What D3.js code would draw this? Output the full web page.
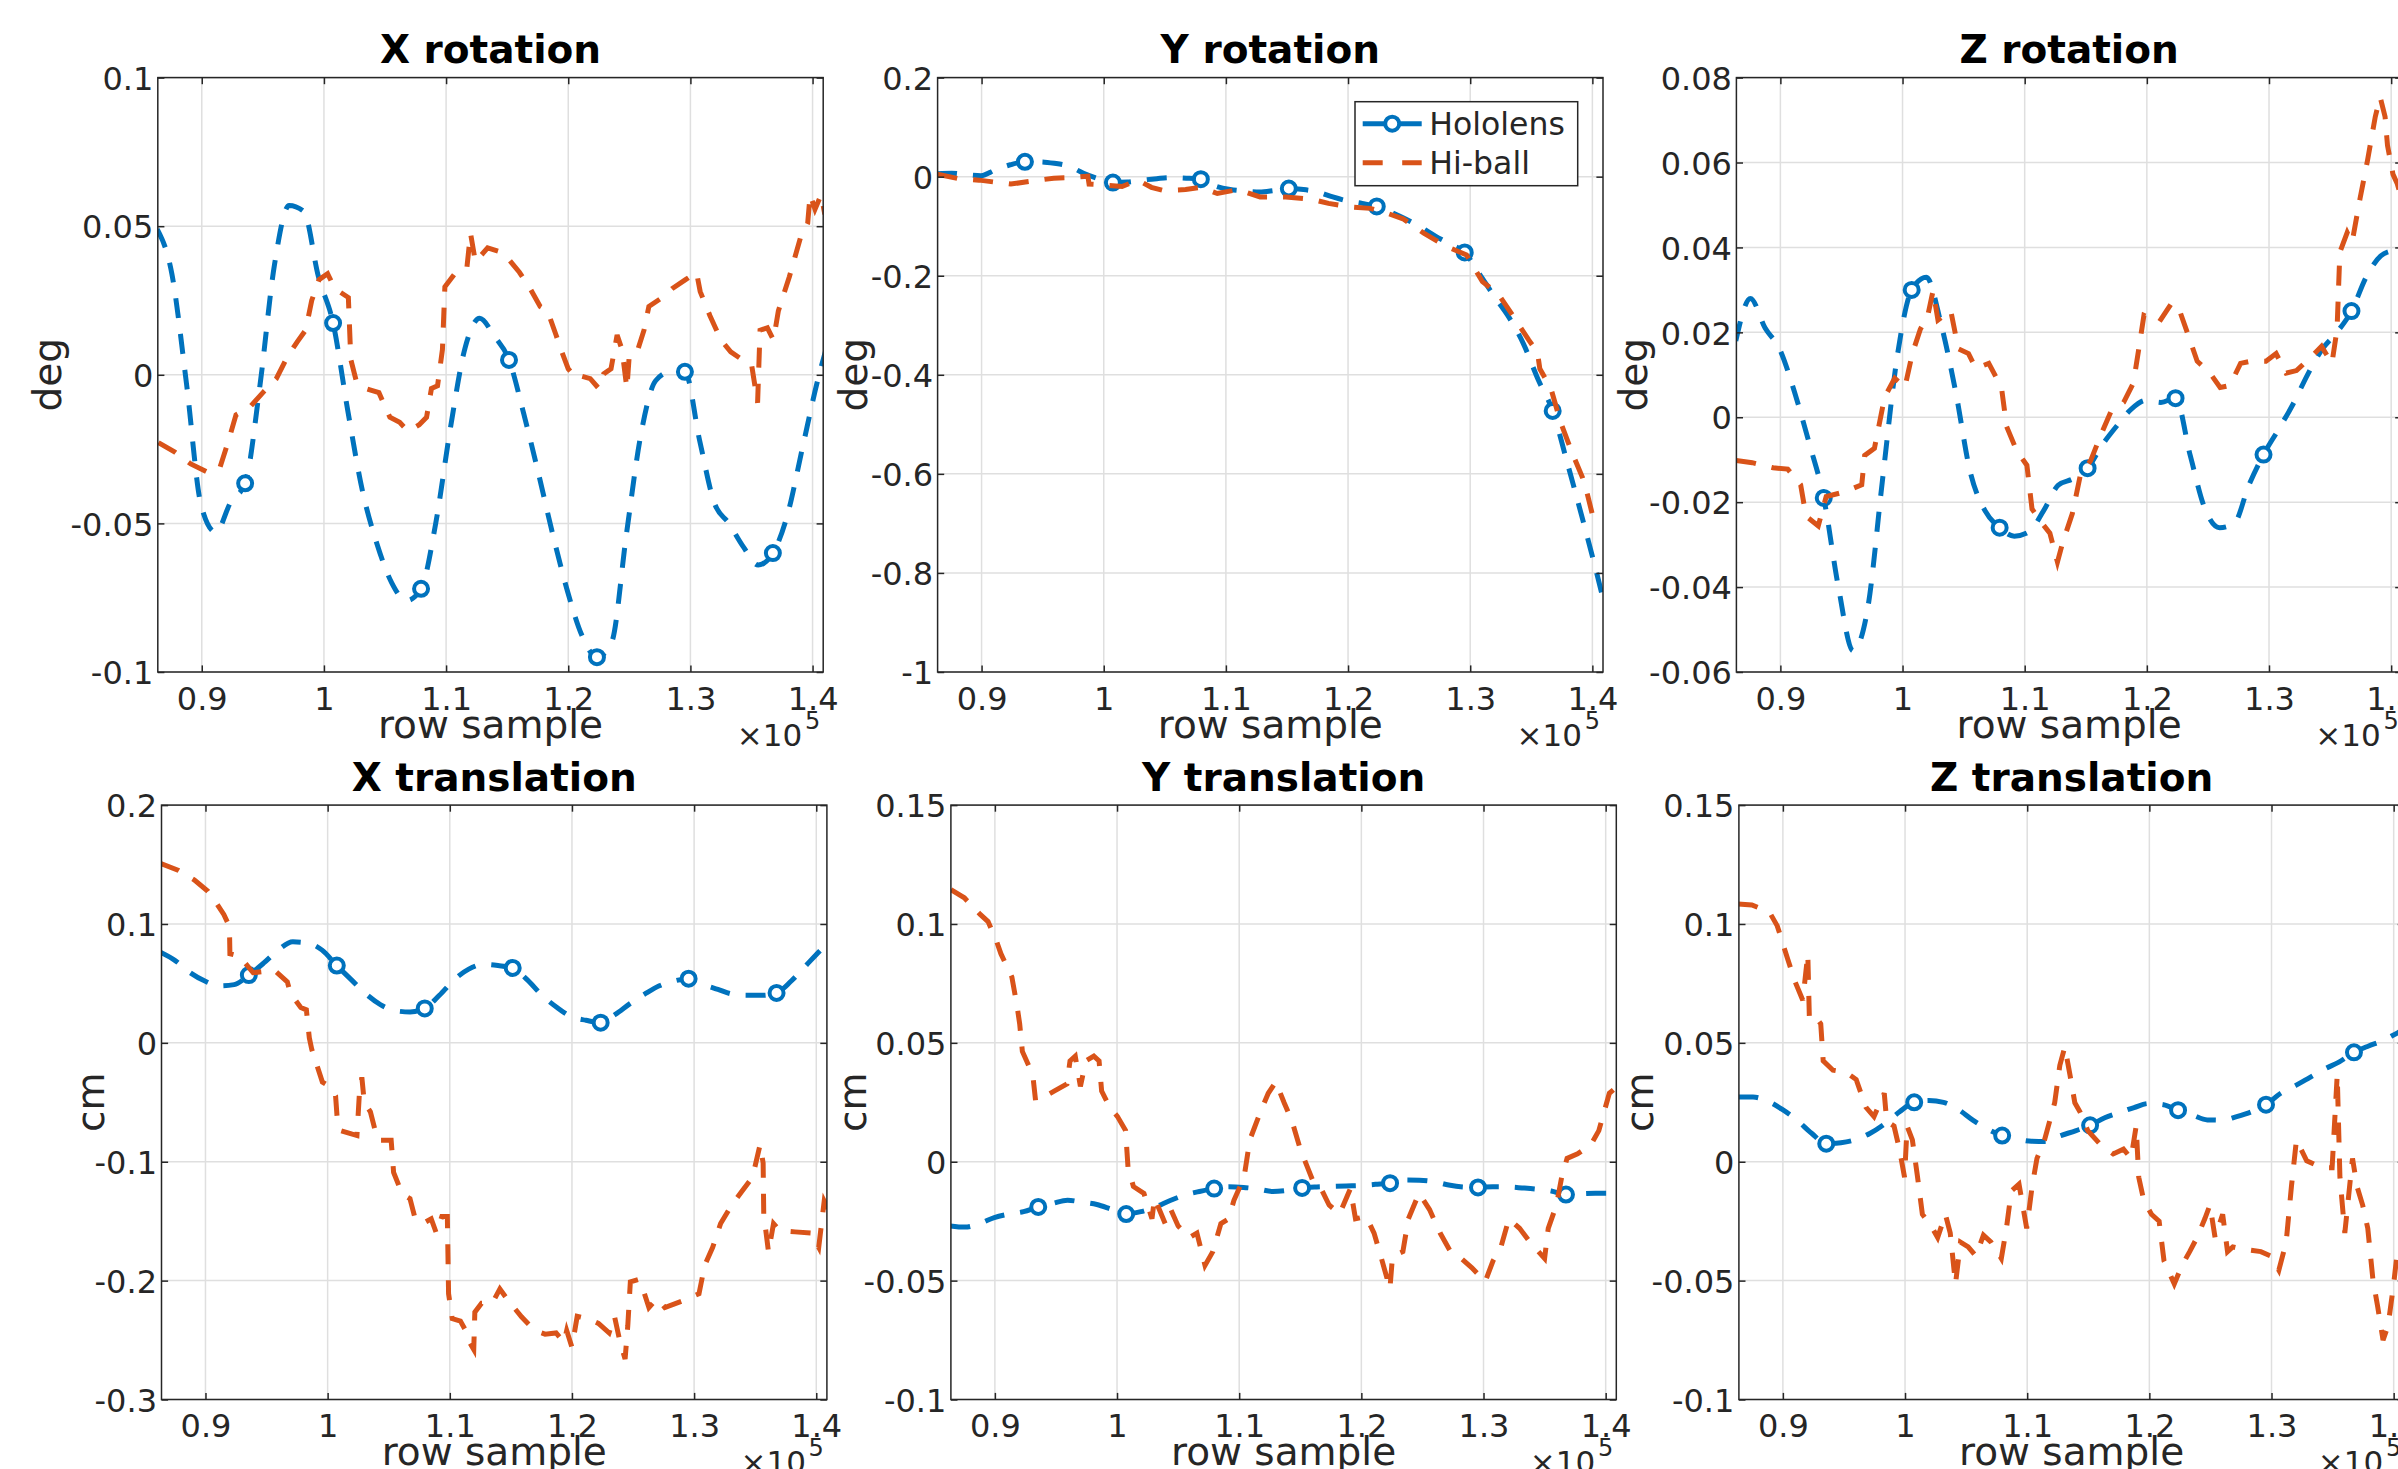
<!DOCTYPE html>
<html>
<head>
<meta charset="utf-8">
<script src="https://cdn.jsdelivr.net/npm/d3@7/dist/d3.min.js"></script>
<style>
  body { margin: 0; background: #fff; }
  svg text { font-family: "DejaVu Sans", sans-serif; }
</style>
</head>
<body>
<svg id="chart" width="2398" height="1469"></svg>
<script>
// -------------------------------------------------------------------------
// Data (row sample is in units of 10^5, as on the axis)

const rowDomain = [0.864, 1.4087];
const rowTicks = [0.9, 1.0, 1.1, 1.2, 1.3, 1.4];
const rowTickLabels = ['0.9', '1', '1.1', '1.2', '1.3', '1.4'];

const panelTitles = ['X rotation', 'Y rotation', 'Z rotation', 'X translation', 'Y translation', 'Z translation'];
const panelUnits = ['deg', 'deg', 'deg', 'cm', 'cm', 'cm'];
const panelYDomains = [[-0.1, 0.1], [-1, 0.2], [-0.06, 0.08], [-0.3, 0.2], [-0.1, 0.15], [-0.1, 0.15]];
const panelYTicks = [
  [-0.1, -0.05, 0, 0.05, 0.1],
  [-1, -0.8, -0.6, -0.4, -0.2, 0, 0.2],
  [-0.06, -0.04, -0.02, 0, 0.02, 0.04, 0.06, 0.08],
  [-0.3, -0.2, -0.1, 0, 0.1, 0.2],
  [-0.1, -0.05, 0, 0.05, 0.1, 0.15],
  [-0.1, -0.05, 0, 0.05, 0.1, 0.15]
];

const seriesNames = ['Hololens', 'Hi-ball'];

// Hololens samples, all on the same rows; markers sit on every 6th one
const hololensRows = [0.8635, 0.8755, 0.8875, 0.8995, 0.9115, 0.9235, 0.9355, 0.9475, 0.9595, 0.9715,
  0.9835, 0.9955, 1.0075, 1.0195, 1.0315, 1.0435, 1.0555, 1.0675, 1.0795, 1.0915,
  1.1035, 1.1155, 1.1275, 1.1395, 1.1515, 1.1635, 1.1755, 1.1875, 1.1995, 1.2115,
  1.2235, 1.2355, 1.2475, 1.2595, 1.2715, 1.2835, 1.2955, 1.3075, 1.3195, 1.3315,
  1.3435, 1.3555, 1.3675, 1.3795, 1.3915, 1.4035, 1.4155];
const hololensMarkerIndex = [6, 12, 18, 24, 30, 36, 42];

const hololensXRot = [0.049, 0.034, -0.003, -0.044, -0.053, -0.043, -0.0365, -0.004, 0.037, 0.057,
  0.055, 0.033, 0.0174, -0.012, -0.039, -0.057, -0.070, -0.076, -0.072, -0.050,
  -0.018, 0.009, 0.019, 0.013, 0.005, -0.013, -0.033, -0.054, -0.073, -0.088,
  -0.095, -0.090, -0.054, -0.020, -0.002, 0.001, 0.001, -0.022, -0.043, -0.050,
  -0.058, -0.064, -0.060, -0.047, -0.025, -0.003, 0.015];
const hololensYRot = [0.006, 0.007, 0.004, 0.002, 0.014, 0.024, 0.030, 0.030, 0.027, 0.021,
  0.007, -0.004, -0.012, -0.011, -0.007, -0.004, -0.002, -0.003, -0.005, -0.019,
  -0.026, -0.029, -0.031, -0.028, -0.024, -0.026, -0.031, -0.041, -0.049, -0.054,
  -0.060, -0.072, -0.086, -0.102, -0.120, -0.136, -0.153, -0.196, -0.241, -0.283,
  -0.337, -0.409, -0.473, -0.578, -0.687, -0.800, -0.920];
const hololensZRot = [0.018, 0.028, 0.021, 0.016, 0.006, -0.006, -0.019, -0.040, -0.055, -0.045,
  -0.015, 0.014, 0.030, 0.033, 0.022, 0.006, -0.013, -0.022, -0.026, -0.028,
  -0.027, -0.022, -0.016, -0.0145, -0.012, -0.0065, -0.002, 0.002, 0.004, 0.0035,
  0.0045, -0.009, -0.0215, -0.026, -0.025, -0.016, -0.0088, -0.003, 0.003, 0.010,
  0.016, 0.020, 0.025, 0.033, 0.038, 0.0395, 0.041];
const hololensXTrans = [0.076, 0.069, 0.059, 0.052, 0.048, 0.049, 0.057, 0.067, 0.078, 0.085,
  0.084, 0.078, 0.065, 0.053, 0.041, 0.032, 0.027, 0.026, 0.029, 0.040,
  0.053, 0.062, 0.066, 0.065, 0.063, 0.053, 0.040, 0.030, 0.022, 0.019,
  0.017, 0.024, 0.033, 0.041, 0.048, 0.052, 0.054, 0.049, 0.045, 0.041,
  0.040, 0.040, 0.042, 0.052, 0.065, 0.078, 0.090];
const hololensYTrans = [-0.027, -0.0275, -0.026, -0.0235, -0.022, -0.021, -0.019, -0.0175, -0.0162, -0.017,
  -0.018, -0.020, -0.022, -0.021, -0.019, -0.0163, -0.014, -0.0125, -0.0113, -0.0105,
  -0.0108, -0.0115, -0.0125, -0.012, -0.011, -0.0106, -0.0104, -0.0102, -0.010, -0.0095,
  -0.009, -0.0077, -0.0078, -0.0084, -0.0098, -0.0106, -0.0108, -0.0105, -0.0106, -0.011,
  -0.0115, -0.0123, -0.0138, -0.0135, -0.0133, -0.0133, -0.0135];
const hololensZTrans = [0.0272, 0.0272, 0.0255, 0.022, 0.0175, 0.012, 0.0076, 0.008, 0.0093, 0.012,
  0.016, 0.021, 0.025, 0.0258, 0.025, 0.022, 0.0175, 0.0138, 0.011, 0.0095,
  0.0086, 0.0085, 0.011, 0.013, 0.0153, 0.0185, 0.0207, 0.0228, 0.0245, 0.024,
  0.0217, 0.0196, 0.0176, 0.0175, 0.019, 0.021, 0.024, 0.0288, 0.032, 0.0355,
  0.039, 0.042, 0.046, 0.0487, 0.051, 0.0543, 0.057];

const hiballXRot = [[0.8645, -0.0228], [0.878, -0.026], [0.891, -0.030], [0.906, -0.033], [0.915, -0.031],
  [0.922, -0.022], [0.928, -0.0135], [0.939, -0.011], [0.950, -0.006], [0.961, -0.0013], [0.970, 0.006],
  [0.978, 0.011], [0.985, 0.015], [0.990, 0.025], [0.996, 0.032], [1.003, 0.034], [1.009, 0.029],
  [1.020, 0.026], [1.022, 0.0052], [1.027, -0.003], [1.034, -0.0046], [1.045, -0.006], [1.054, -0.0143],
  [1.062, -0.016], [1.069, -0.019], [1.078, -0.0168], [1.084, -0.0143], [1.088, -0.0046], [1.093, -0.0037],
  [1.097, 0.0085], [1.099, 0.0296], [1.108, 0.0345], [1.117, 0.036], [1.120, 0.0476], [1.124, 0.038],
  [1.134, 0.0427], [1.147, 0.041], [1.160, 0.0345], [1.168, 0.0296], [1.177, 0.023], [1.183, 0.0215],
  [1.190, 0.0134], [1.194, 0.0085], [1.200, 0.002], [1.207, -0.0013], [1.211, -0.0005], [1.218, -0.0013],
  [1.225, -0.0046], [1.229, 0.0003], [1.235, 0.002], [1.240, 0.0134], [1.244, 0.0085], [1.248, -0.0046],
  [1.250, 0.0068], [1.257, 0.0085], [1.262, 0.015], [1.266, 0.023], [1.277, 0.026], [1.285, 0.029],
  [1.296, 0.032], [1.305, 0.0345], [1.308, 0.028], [1.316, 0.0199], [1.325, 0.0117], [1.333, 0.0077],
  [1.342, 0.0052], [1.350, 0.0036], [1.355, -0.0094], [1.357, 0.015], [1.363, 0.0158], [1.368, 0.0117],
  [1.372, 0.0215], [1.381, 0.033], [1.390, 0.046], [1.396, 0.051], [1.398, 0.0606], [1.402, 0.0557],
  [1.407, 0.0606], [1.410, 0.054]];
const hiballYRot = [[0.864, 0.005], [0.881, -0.004], [0.898, -0.007], [0.924, -0.015], [0.941, -0.009],
  [0.959, -0.003], [0.972, -0.002], [0.987, 0.001], [0.988, -0.015], [1.002, -0.017], [1.015, -0.020],
  [1.028, -0.007], [1.039, -0.0215], [1.049, -0.028], [1.067, -0.026], [1.080, -0.0215], [1.093, -0.034],
  [1.110, -0.026], [1.128, -0.041], [1.149, -0.041], [1.171, -0.046], [1.184, -0.054], [1.201, -0.061],
  [1.218, -0.064], [1.231, -0.073], [1.245, -0.085], [1.262, -0.114], [1.279, -0.139], [1.297, -0.158],
  [1.310, -0.212], [1.323, -0.237], [1.335, -0.281], [1.348, -0.330], [1.355, -0.354], [1.357, -0.388],
  [1.366, -0.427], [1.374, -0.496], [1.383, -0.555], [1.392, -0.608], [1.396, -0.642], [1.400, -0.682],
  [1.410, -0.696]];
const hiballZRot = [[0.8638, -0.0102], [0.877, -0.0107], [0.894, -0.0119], [0.906, -0.0122], [0.9166, -0.0159],
  [0.921, -0.0233], [0.931, -0.0256], [0.9375, -0.0187], [0.952, -0.0176], [0.9666, -0.0159], [0.969, -0.009],
  [0.977, -0.0073], [0.9853, 0.0047], [0.9936, 0.0092], [1.0019, 0.007], [1.008, 0.015], [1.0145, 0.0207],
  [1.0207, 0.024], [1.025, 0.0298], [1.029, 0.0229], [1.0394, 0.0252], [1.0457, 0.0161], [1.054, 0.015],
  [1.060, 0.0115], [1.0706, 0.0127], [1.081, 0.007], [1.0852, -0.0022], [1.0935, -0.0079], [1.1018, -0.0113],
  [1.106, -0.0216], [1.1143, -0.025], [1.1206, -0.0273], [1.1268, -0.0341], [1.131, -0.0296], [1.139, -0.0227],
  [1.1456, -0.0136], [1.154, -0.0102], [1.162, -0.0044], [1.1705, 0.0013], [1.181, 0.0035], [1.189, 0.0081],
  [1.1934, 0.0161], [1.1976, 0.024], [1.210, 0.0224], [1.2204, 0.0269], [1.2267, 0.0252], [1.235, 0.0184],
  [1.2412, 0.0132], [1.2517, 0.0104], [1.260, 0.007], [1.268, 0.0075], [1.2767, 0.0127], [1.285, 0.0132],
  [1.2975, 0.0132], [1.3058, 0.015], [1.314, 0.0104], [1.3225, 0.011], [1.333, 0.0138], [1.343, 0.0167],
  [1.3515, 0.0127], [1.3557, 0.0207], [1.358, 0.0389], [1.364, 0.0435], [1.368, 0.0412], [1.3745, 0.0515],
  [1.3807, 0.0606], [1.387, 0.0708], [1.391, 0.0754], [1.395, 0.0708], [1.397, 0.064], [1.4015, 0.0572],
  [1.405, 0.055], [1.410, 0.050]];
const hiballXTrans = [[0.863, 0.151], [0.878, 0.145], [0.891, 0.137], [0.902, 0.1275], [0.9087, 0.118],
  [0.915, 0.108], [0.9196, 0.098], [0.920, 0.075], [0.928, 0.073], [0.9326, 0.067], [0.939, 0.059],
  [0.9565, 0.061], [0.967, 0.0513], [0.9696, 0.0415], [0.978, 0.0297], [0.9826, 0.0278], [0.985, 0.0043],
  [0.987, -0.0055], [0.9913, -0.019], [0.9957, -0.033], [1.002, -0.037], [1.0065, -0.0446], [1.008, -0.066],
  [1.011, -0.074], [1.0174, -0.076], [1.024, -0.078], [1.026, -0.0426], [1.028, -0.029], [1.030, -0.050],
  [1.035, -0.058], [1.041, -0.082], [1.052, -0.082], [1.054, -0.109], [1.061, -0.127], [1.0674, -0.131],
  [1.0717, -0.148], [1.078, -0.152], [1.0848, -0.148], [1.089, -0.160], [1.0935, -0.146], [1.098, -0.146],
  [1.099, -0.211], [1.102, -0.232], [1.1087, -0.234], [1.113, -0.242], [1.115, -0.250], [1.1196, -0.258],
  [1.1205, -0.2265], [1.126, -0.219], [1.1348, -0.219], [1.141, -0.207], [1.1478, -0.2167], [1.1587, -0.2304],
  [1.1696, -0.242], [1.178, -0.245], [1.187, -0.244], [1.1935, -0.252], [1.1957, -0.242], [1.200, -0.256],
  [1.2043, -0.230], [1.213, -0.232], [1.2217, -0.236], [1.2304, -0.244], [1.2348, -0.230], [1.239, -0.250],
  [1.2435, -0.266], [1.2457, -0.238], [1.2478, -0.201], [1.2543, -0.199], [1.2587, -0.209], [1.263, -0.2226],
  [1.2696, -0.215], [1.276, -0.2226], [1.2913, -0.2167], [1.304, -0.211], [1.3087, -0.187], [1.3152, -0.172],
  [1.3217, -0.152], [1.3304, -0.137], [1.339, -0.125], [1.3478, -0.113], [1.354, -0.0857], [1.3565, -0.101],
  [1.357, -0.144], [1.3609, -0.176], [1.365, -0.152], [1.370, -0.158], [1.3826, -0.159], [1.3957, -0.160],
  [1.402, -0.172], [1.4065, -0.133], [1.410, -0.140]];
const hiballYTrans = [[0.864, 0.1144], [0.875, 0.111], [0.888, 0.104], [0.8944, 0.101], [0.901, 0.0933],
  [0.905, 0.0874], [0.9139, 0.0777], [0.918, 0.066], [0.9203, 0.058], [0.9225, 0.0464], [0.931, 0.0366],
  [0.9333, 0.0258], [0.942, 0.0278], [0.9485, 0.0297], [0.959, 0.0327], [0.9615, 0.0424], [0.9658, 0.0444],
  [0.970, 0.0317], [0.9745, 0.0424], [0.981, 0.0444], [0.9853, 0.0424], [0.9874, 0.0297], [0.994, 0.0229],
  [1.0004, 0.019], [1.007, 0.0131], [1.009, -0.0025], [1.0134, -0.0104], [1.022, -0.0133], [1.0286, -0.024],
  [1.0307, -0.0153], [1.0394, -0.026], [1.044, -0.0201], [1.050, -0.027], [1.059, -0.032], [1.0654, -0.030],
  [1.072, -0.0436], [1.0784, -0.0378], [1.085, -0.026], [1.0913, -0.024], [1.0957, -0.0162], [1.104, -0.0065],
  [1.1087, 0.0092], [1.1173, 0.0209], [1.1238, 0.0288], [1.130, 0.0336], [1.1368, 0.0248], [1.1433, 0.017],
  [1.150, 0.0053], [1.156, -0.0025], [1.1606, -0.0084], [1.167, -0.0113], [1.1736, -0.0182], [1.1822, -0.022],
  [1.191, -0.0113], [1.1952, -0.024], [1.2039, -0.023], [1.2104, -0.030], [1.217, -0.0417], [1.2234, -0.0534],
  [1.2255, -0.0397], [1.234, -0.0378], [1.2385, -0.024], [1.2472, -0.0133], [1.2558, -0.0201], [1.2645, -0.030],
  [1.273, -0.0378], [1.2818, -0.0407], [1.2905, -0.0446], [1.3013, -0.0505], [1.3078, -0.0417], [1.3143, -0.0358],
  [1.3208, -0.024], [1.3295, -0.028], [1.338, -0.0338], [1.350, -0.0407], [1.353, -0.028], [1.3597, -0.0182],
  [1.364, -0.0065], [1.3684, 0.0014], [1.377, 0.0033], [1.388, 0.0072], [1.3944, 0.0131], [1.403, 0.0288],
  [1.4074, 0.0307]];
const hiballZTrans = [[0.8633, 0.1084], [0.8746, 0.108], [0.889, 0.105], [0.8954, 0.0992], [0.9038, 0.0855],
  [0.910, 0.0757], [0.9163, 0.0679], [0.9204, 0.0874], [0.9217, 0.060], [0.9267, 0.061], [0.931, 0.058],
  [0.933, 0.0424], [0.941, 0.0385], [0.9517, 0.0376], [0.960, 0.0346], [0.968, 0.0229], [0.9746, 0.019],
  [0.983, 0.0288], [0.985, 0.017], [0.991, 0.015], [0.9954, 0.0053], [0.9996, -0.0065], [1.0017, 0.015],
  [1.006, 0.0092], [1.010, -0.0055], [1.0142, -0.0221], [1.0225, -0.028], [1.0267, -0.0319], [1.033, -0.0221],
  [1.037, -0.030], [1.0413, -0.0514], [1.0454, -0.0338], [1.0517, -0.0358], [1.058, -0.0397], [1.0642, -0.0309],
  [1.0704, -0.0338], [1.0788, -0.0407], [1.083, -0.028], [1.087, -0.0123], [1.0933, -0.0094], [1.0996, -0.028],
  [1.104, -0.0104], [1.108, 0.0014], [1.1142, 0.0092], [1.1225, 0.0248], [1.1267, 0.0405], [1.1308, 0.0483],
  [1.135, 0.0366], [1.139, 0.0248], [1.1433, 0.0209], [1.1496, 0.0131], [1.160, 0.0072], [1.1704, 0.0033],
  [1.1788, 0.0053], [1.185, 0.0014], [1.1892, 0.015], [1.1913, -0.0065], [1.1954, -0.0162], [1.2017, -0.0221],
  [1.208, -0.025], [1.212, -0.0417], [1.2204, -0.0514], [1.2267, -0.0436], [1.233, -0.0378], [1.239, -0.0319],
  [1.2454, -0.024], [1.2496, -0.0182], [1.2538, -0.0319], [1.260, -0.0221], [1.264, -0.0378], [1.2683, -0.0358],
  [1.2767, -0.0368], [1.2913, -0.0378], [1.2996, -0.0397], [1.306, -0.0456], [1.312, -0.0338], [1.3163, -0.0104],
  [1.3204, 0.0092], [1.3288, 0.0004], [1.341, -0.0025], [1.3496, -0.0025], [1.3538, 0.0366], [1.356, -0.0065],
  [1.360, -0.030], [1.3663, 0.0014], [1.370, -0.0104], [1.3746, -0.0182], [1.3788, -0.028], [1.383, -0.0495],
  [1.387, -0.0612], [1.3913, -0.075], [1.3954, -0.069], [1.400, -0.0514], [1.403, -0.0378], [1.410, -0.030]];

const hololensByPanel = [hololensXRot, hololensYRot, hololensZRot, hololensXTrans, hololensYTrans, hololensZTrans];
const hiballByPanel = [hiballXRot, hiballYRot, hiballZRot, hiballXTrans, hiballYTrans, hiballZTrans];

// -------------------------------------------------------------------------
// Layout

const colors = { hololens: '#0072BD', hiball: '#D95319', axis: '#262626', grid: '#dfdfdf' };
const plotW = 665.4;
const plotH = 594.4;
const tickLen = 6.6;
const lineWidth = 5;
const dashes = '20,16';
// left/top of each axes box, and where the rotated y label baseline sits
const panelBoxes = [
  { left: 157.8, top: 77.6, ylabelX: 61 },
  { left: 937.6, top: 77.6, ylabelX: 867 },
  { left: 1736.4, top: 77.6, ylabelX: 1647 },
  { left: 161.5, top: 805.1, ylabelX: 104 },
  { left: 950.9, top: 805.1, ylabelX: 866 },
  { left: 1738.9, top: 805.1, ylabelX: 1653 }
];

const svg = d3.select('#chart');
svg.append('rect').attr('width', 2398).attr('height', 1469).attr('fill', '#fff');
const defs = svg.append('defs');

const fmtValue = (v) => String(+v.toFixed(4));

// -------------------------------------------------------------------------
// Methods

function drawPanel(index) {
  const box = panelBoxes[index];
  const x = d3.scaleLinear().domain(rowDomain).range([0, plotW]);
  const y = d3.scaleLinear().domain(panelYDomains[index]).range([plotH, 0]);
  const g = svg.append('g').attr('transform', `translate(${box.left},${box.top})`);

  defs.append('clipPath').attr('id', `clip${index}`)
    .append('rect').attr('width', plotW).attr('height', plotH);

  // grid
  g.append('g').selectAll('line.vgrid').data(rowTicks).enter().append('line')
    .attr('x1', (d) => x(d)).attr('x2', (d) => x(d))
    .attr('y1', 0).attr('y2', plotH)
    .attr('stroke', colors.grid).attr('stroke-width', 1.5);
  g.append('g').selectAll('line.hgrid').data(panelYTicks[index]).enter().append('line')
    .attr('x1', 0).attr('x2', plotW)
    .attr('y1', (d) => y(d)).attr('y2', (d) => y(d))
    .attr('stroke', colors.grid).attr('stroke-width', 1.5);

  const plot = g.append('g').attr('clip-path', `url(#clip${index})`);

  // Hololens
  const hololens = hololensByPanel[index].map((v, i) => [hololensRows[i], v]);
  const smoothLine = d3.line().x((d) => x(d[0])).y((d) => y(d[1])).curve(d3.curveMonotoneX);
  plot.append('path').datum(hololens)
    .attr('d', smoothLine)
    .attr('fill', 'none').attr('stroke', colors.hololens)
    .attr('stroke-width', lineWidth).attr('stroke-dasharray', dashes);
  plot.selectAll('circle.marker').data(hololensMarkerIndex.map((i) => hololens[i])).enter()
    .append('circle')
    .attr('cx', (d) => x(d[0])).attr('cy', (d) => y(d[1])).attr('r', 7)
    .attr('fill', '#fff').attr('stroke', colors.hololens).attr('stroke-width', 4);

  // Hi-ball
  const stepLine = d3.line().x((d) => x(d[0])).y((d) => y(d[1]));
  plot.append('path').datum(hiballByPanel[index])
    .attr('d', stepLine)
    .attr('fill', 'none').attr('stroke', colors.hiball)
    .attr('stroke-width', lineWidth).attr('stroke-dasharray', dashes);

  // box
  g.append('rect').attr('width', plotW).attr('height', plotH)
    .attr('fill', 'none').attr('stroke', colors.axis).attr('stroke-width', 1.5);

  // axes: inward ticks on all four sides
  const bottomAxis = d3.axisBottom(x).tickValues(rowTicks)
    .tickFormat((d, i) => rowTickLabels[i])
    .tickSizeInner(-tickLen).tickSizeOuter(0).tickPadding(15);
  const leftAxis = d3.axisLeft(y).tickValues(panelYTicks[index])
    .tickFormat(fmtValue)
    .tickSizeInner(-tickLen).tickSizeOuter(0).tickPadding(4.5);
  const topAxis = d3.axisTop(x).tickValues(rowTicks).tickFormat('')
    .tickSizeInner(-tickLen).tickSizeOuter(0);
  const rightAxis = d3.axisRight(y).tickValues(panelYTicks[index]).tickFormat('')
    .tickSizeInner(-tickLen).tickSizeOuter(0);

  const axes = [
    g.append('g').attr('transform', `translate(0,${plotH})`).call(bottomAxis),
    g.append('g').call(leftAxis),
    g.append('g').call(topAxis),
    g.append('g').attr('transform', `translate(${plotW},0)`).call(rightAxis)
  ];
  axes.forEach((a) => {
    a.select('.domain').remove();
    a.selectAll('.tick line').attr('stroke', colors.axis).attr('stroke-width', 1.5);
    a.selectAll('.tick text')
      .attr('fill', colors.axis)
      .style('font-family', '"DejaVu Sans", sans-serif')
      .style('font-size', '32px');
  });
  axes[1].selectAll('.tick text').attr('dy', '0.365em');

  // title and labels
  g.append('text').attr('x', plotW / 2).attr('y', -14.5)
    .attr('text-anchor', 'middle')
    .style('font-size', '39px').style('font-weight', 'bold').attr('fill', '#000')
    .text(panelTitles[index]);
  g.append('text').attr('x', plotW / 2).attr('y', plotH + 66)
    .attr('text-anchor', 'middle')
    .style('font-size', '39px').attr('fill', colors.axis)
    .text('row sample');
  g.append('text')
    .attr('transform', `translate(${box.ylabelX - box.left},${plotH / 2}) rotate(-90)`)
    .attr('text-anchor', 'middle')
    .style('font-size', '39px').attr('fill', colors.axis)
    .text(panelUnits[index]);

  // x10^5 exponent
  g.append('text').attr('x', plotW - 21).attr('y', plotH + 74)
    .attr('text-anchor', 'end')
    .style('font-size', '31px').attr('fill', colors.axis)
    .text('\u00d710');
  g.append('text').attr('x', plotW - 3).attr('y', plotH + 57)
    .attr('text-anchor', 'end')
    .style('font-size', '24px').attr('fill', colors.axis)
    .text('5');

  if (index === 1) {
    drawLegend(g);
  }
}

function drawLegend(g) {
  const legendW = 222.7;
  const legendH = 84;
  const lx = plotW - 25.3 - legendW;
  const ly = 24.1;
  const legend = g.append('g').attr('transform', `translate(${lx},${ly})`);
  legend.append('rect').attr('width', legendW).attr('height', legendH)
    .attr('fill', '#fff').attr('stroke', colors.axis).attr('stroke-width', 1.5);

  const rows = [
    { name: seriesNames[0], color: colors.hololens, marker: true, cy: 22 },
    { name: seriesNames[1], color: colors.hiball, marker: false, cy: 61 }
  ];
  rows.forEach((r) => {
    legend.append('line')
      .attr('x1', 7.7).attr('x2', 66.7).attr('y1', r.cy).attr('y2', r.cy)
      .attr('stroke', r.color).attr('stroke-width', lineWidth)
      .attr('stroke-dasharray', r.marker ? null : '20,19.5');
    if (r.marker) {
      legend.append('circle').attr('cx', 37.2).attr('cy', r.cy).attr('r', 7)
        .attr('fill', '#fff').attr('stroke', r.color).attr('stroke-width', 4);
    }
    legend.append('text').attr('x', 74.3).attr('y', r.cy + 11)
      .style('font-size', '31.5px').attr('fill', colors.axis)
      .text(r.name);
  });
}

d3.range(panelTitles.length).forEach(drawPanel);
</script>
</body>
</html>
